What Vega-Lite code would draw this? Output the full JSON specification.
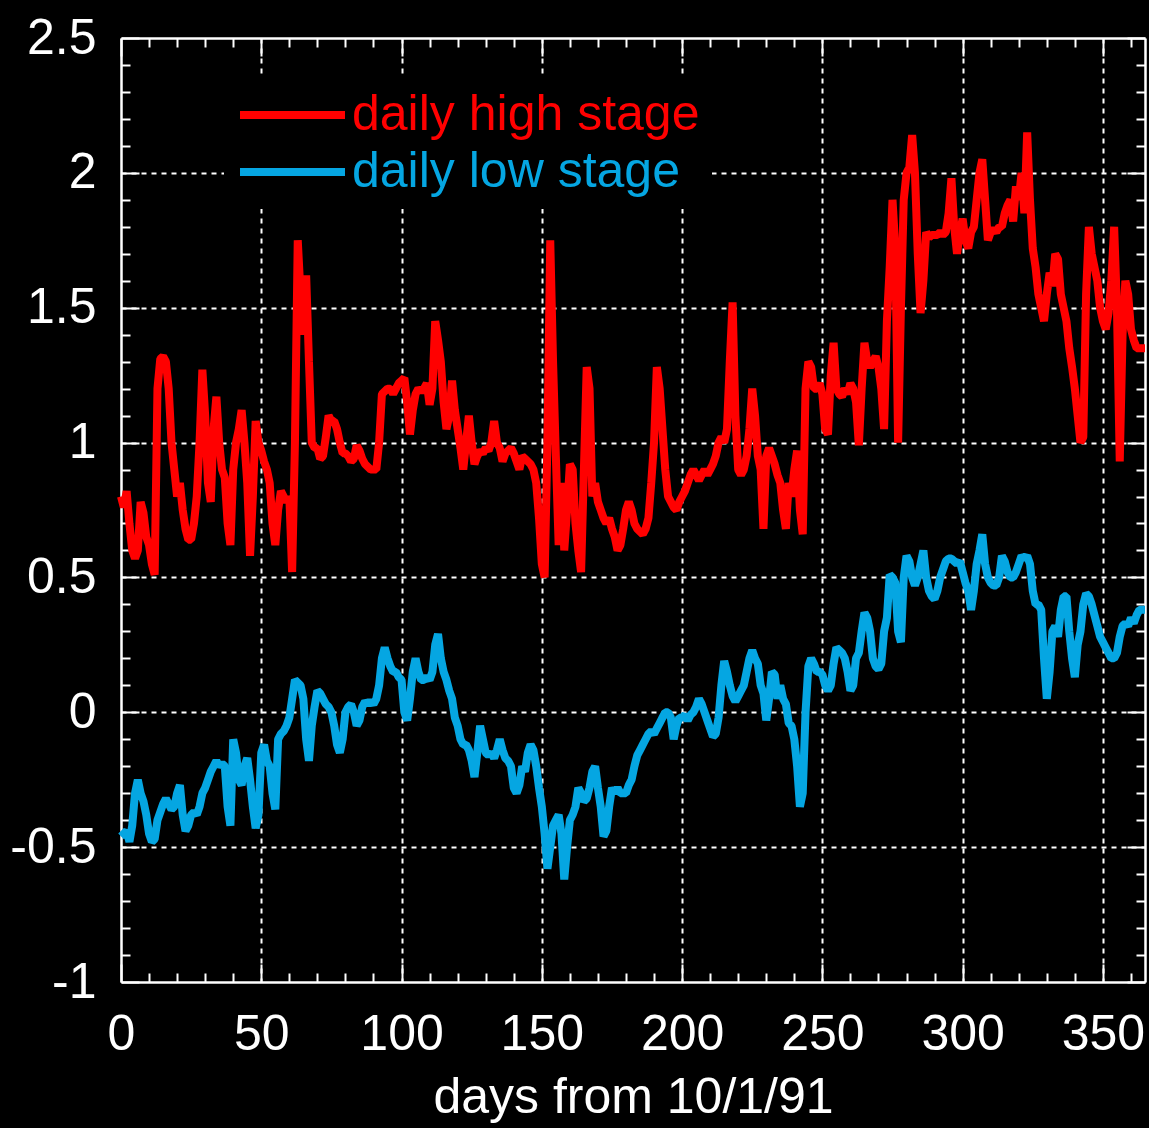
{
"$schema": "https://vega.github.io/schema/vega-lite/v6.json",
"autosize": {"type": "none"},
"padding": {"left": 121, "top": 38, "right": 4, "bottom": 146},
"width": 1024,
"height": 944,
"background": "black",
"config": {"view": {"stroke": null}, "font": "Liberation Sans"},
"data": {"values": [
{"day":0,"high":0.80,"low":-0.46},{"day":1,"high":0.76,"low":-0.45},{"day":2,"high":0.82,"low":-0.44},{"day":3,"high":0.70,"low":-0.48},{"day":4,"high":0.60,"low":-0.42},
{"day":5,"high":0.57,"low":-0.30},{"day":6,"high":0.60,"low":-0.25},{"day":7,"high":0.78,"low":-0.30},{"day":8,"high":0.74,"low":-0.33},{"day":9,"high":0.65,"low":-0.38},
{"day":10,"high":0.62,"low":-0.45},{"day":11,"high":0.55,"low":-0.48},{"day":12,"high":0.51,"low":-0.47},{"day":13,"high":1.20,"low":-0.40},{"day":14,"high":1.31,"low":-0.37},
{"day":15,"high":1.32,"low":-0.34},{"day":16,"high":1.30,"low":-0.32},{"day":17,"high":1.20,"low":-0.34},{"day":18,"high":1.00,"low":-0.36},{"day":19,"high":0.90,"low":-0.35},
{"day":20,"high":0.80,"low":-0.30},{"day":21,"high":0.85,"low":-0.27},{"day":22,"high":0.75,"low":-0.38},{"day":23,"high":0.68,"low":-0.44},{"day":24,"high":0.64,"low":-0.42},
{"day":25,"high":0.64,"low":-0.38},{"day":26,"high":0.70,"low":-0.37},{"day":27,"high":0.80,"low":-0.38},{"day":28,"high":1.00,"low":-0.35},{"day":29,"high":1.27,"low":-0.30},
{"day":30,"high":1.10,"low":-0.28},{"day":31,"high":0.85,"low":-0.25},{"day":32,"high":0.78,"low":-0.22},{"day":33,"high":1.05,"low":-0.20},{"day":34,"high":1.17,"low":-0.18},
{"day":35,"high":1.00,"low":-0.20},{"day":36,"high":0.90,"low":-0.19},{"day":37,"high":0.87,"low":-0.20},{"day":38,"high":0.70,"low":-0.35},{"day":39,"high":0.62,"low":-0.42},
{"day":40,"high":0.90,"low":-0.10},{"day":41,"high":1.00,"low":-0.15},{"day":42,"high":1.05,"low":-0.25},{"day":43,"high":1.12,"low":-0.27},{"day":44,"high":1.00,"low":-0.20},
{"day":45,"high":0.85,"low":-0.17},{"day":46,"high":0.58,"low":-0.25},{"day":47,"high":0.80,"low":-0.35},{"day":48,"high":1.08,"low":-0.43},{"day":49,"high":1.00,"low":-0.38},
{"day":50,"high":0.97,"low":-0.15},{"day":51,"high":0.93,"low":-0.12},{"day":52,"high":0.90,"low":-0.18},{"day":53,"high":0.85,"low":-0.20},{"day":54,"high":0.70,"low":-0.30},
{"day":55,"high":0.62,"low":-0.36},{"day":56,"high":0.75,"low":-0.10},{"day":57,"high":0.82,"low":-0.08},{"day":58,"high":0.80,"low":-0.07},{"day":59,"high":0.78,"low":-0.05},
{"day":60,"high":0.80,"low":-0.02},{"day":61,"high":0.52,"low":0.05},{"day":62,"high":1.00,"low":0.12},{"day":63,"high":1.75,"low":0.11},{"day":64,"high":1.55,"low":0.10},
{"day":65,"high":1.40,"low":0.05},{"day":66,"high":1.62,"low":-0.10},{"day":67,"high":1.30,"low":-0.18},{"day":68,"high":1.00,"low":-0.05},{"day":69,"high":0.98,"low":0.02},
{"day":70,"high":0.98,"low":0.08},{"day":71,"high":0.94,"low":0.07},{"day":72,"high":0.95,"low":0.05},{"day":73,"high":1.02,"low":0.03},{"day":74,"high":1.10,"low":0.02},
{"day":75,"high":1.08,"low":0.00},{"day":76,"high":1.08,"low":-0.05},{"day":77,"high":1.05,"low":-0.12},{"day":78,"high":1.00,"low":-0.15},{"day":79,"high":0.96,"low":-0.10},
{"day":80,"high":0.96,"low":0.00},{"day":81,"high":0.95,"low":0.02},{"day":82,"high":0.93,"low":0.03},{"day":83,"high":0.94,"low":0.00},{"day":84,"high":0.99,"low":-0.05},
{"day":85,"high":0.97,"low":-0.03},{"day":86,"high":0.94,"low":0.02},{"day":87,"high":0.92,"low":0.04},{"day":88,"high":0.91,"low":0.03},{"day":89,"high":0.90,"low":0.04},
{"day":90,"high":0.90,"low":0.03},{"day":91,"high":0.90,"low":0.05},{"day":92,"high":1.00,"low":0.10},{"day":93,"high":1.18,"low":0.20},{"day":94,"high":1.19,"low":0.24},
{"day":95,"high":1.20,"low":0.20},{"day":96,"high":1.20,"low":0.17},{"day":97,"high":1.18,"low":0.15},{"day":98,"high":1.20,"low":0.15},{"day":99,"high":1.22,"low":0.13},
{"day":100,"high":1.23,"low":0.12},{"day":101,"high":1.24,"low":0.00},{"day":102,"high":1.15,"low":-0.03},{"day":103,"high":1.03,"low":0.05},{"day":104,"high":1.12,"low":0.15},
{"day":105,"high":1.18,"low":0.20},{"day":106,"high":1.20,"low":0.15},{"day":107,"high":1.19,"low":0.12},{"day":108,"high":1.20,"low":0.12},{"day":109,"high":1.22,"low":0.13},
{"day":110,"high":1.14,"low":0.12},{"day":111,"high":1.20,"low":0.15},{"day":112,"high":1.45,"low":0.25},{"day":113,"high":1.38,"low":0.29},{"day":114,"high":1.30,"low":0.20},
{"day":115,"high":1.15,"low":0.15},{"day":116,"high":1.05,"low":0.12},{"day":117,"high":1.10,"low":0.08},{"day":118,"high":1.23,"low":0.05},{"day":119,"high":1.12,"low":-0.02},
{"day":120,"high":1.05,"low":-0.05},{"day":121,"high":0.98,"low":-0.10},{"day":122,"high":0.90,"low":-0.12},{"day":123,"high":1.00,"low":-0.12},{"day":124,"high":1.10,"low":-0.14},
{"day":125,"high":1.00,"low":-0.18},{"day":126,"high":0.92,"low":-0.24},{"day":127,"high":0.95,"low":-0.15},{"day":128,"high":0.97,"low":-0.05},{"day":129,"high":0.96,"low":-0.10},
{"day":130,"high":0.98,"low":-0.15},{"day":131,"high":0.97,"low":-0.16},{"day":132,"high":1.00,"low":-0.15},{"day":133,"high":1.08,"low":-0.17},{"day":134,"high":1.00,"low":-0.14},
{"day":135,"high":0.98,"low":-0.10},{"day":136,"high":0.93,"low":-0.14},{"day":137,"high":0.96,"low":-0.17},{"day":138,"high":0.97,"low":-0.18},{"day":139,"high":0.98,"low":-0.20},
{"day":140,"high":0.96,"low":-0.28},{"day":141,"high":0.93,"low":-0.30},{"day":142,"high":0.90,"low":-0.27},{"day":143,"high":0.95,"low":-0.20},{"day":144,"high":0.94,"low":-0.22},
{"day":145,"high":0.93,"low":-0.15},{"day":146,"high":0.92,"low":-0.12},{"day":147,"high":0.90,"low":-0.14},{"day":148,"high":0.85,"low":-0.20},{"day":149,"high":0.72,"low":-0.28},
{"day":150,"high":0.55,"low":-0.35},{"day":151,"high":0.50,"low":-0.45},{"day":152,"high":1.00,"low":-0.58},{"day":153,"high":1.75,"low":-0.50},{"day":154,"high":1.30,"low":-0.42},
{"day":155,"high":0.95,"low":-0.40},{"day":156,"high":0.62,"low":-0.38},{"day":157,"high":0.85,"low":-0.45},{"day":158,"high":0.60,"low":-0.62},{"day":159,"high":0.75,"low":-0.50},
{"day":160,"high":0.92,"low":-0.40},{"day":161,"high":0.90,"low":-0.38},{"day":162,"high":0.70,"low":-0.35},{"day":163,"high":0.60,"low":-0.28},{"day":164,"high":0.52,"low":-0.30},
{"day":165,"high":0.90,"low":-0.33},{"day":166,"high":1.28,"low":-0.32},{"day":167,"high":1.20,"low":-0.28},{"day":168,"high":0.80,"low":-0.22},{"day":169,"high":0.85,"low":-0.20},
{"day":170,"high":0.78,"low":-0.28},{"day":171,"high":0.75,"low":-0.35},{"day":172,"high":0.72,"low":-0.46},{"day":173,"high":0.70,"low":-0.44},{"day":174,"high":0.72,"low":-0.35},
{"day":175,"high":0.68,"low":-0.28},{"day":176,"high":0.65,"low":-0.30},{"day":177,"high":0.60,"low":-0.28},{"day":178,"high":0.62,"low":-0.30},{"day":179,"high":0.68,"low":-0.30},
{"day":180,"high":0.75,"low":-0.30},{"day":181,"high":0.78,"low":-0.27},{"day":182,"high":0.75,"low":-0.25},{"day":183,"high":0.70,"low":-0.20},{"day":184,"high":0.68,"low":-0.16},
{"day":185,"high":0.67,"low":-0.14},{"day":186,"high":0.66,"low":-0.12},{"day":187,"high":0.68,"low":-0.10},{"day":188,"high":0.72,"low":-0.08},{"day":189,"high":0.85,"low":-0.07},
{"day":190,"high":1.00,"low":-0.08},{"day":191,"high":1.28,"low":-0.06},{"day":192,"high":1.20,"low":-0.04},{"day":193,"high":1.05,"low":-0.02},{"day":194,"high":0.90,"low":0.00},
{"day":195,"high":0.80,"low":0.00},{"day":196,"high":0.78,"low":-0.02},{"day":197,"high":0.76,"low":-0.10},{"day":198,"high":0.75,"low":-0.05},{"day":199,"high":0.78,"low":-0.02},
{"day":200,"high":0.80,"low":-0.02},{"day":201,"high":0.82,"low":-0.01},{"day":202,"high":0.85,"low":-0.03},{"day":203,"high":0.88,"low":-0.01},{"day":204,"high":0.90,"low":0.00},
{"day":205,"high":0.88,"low":0.02},{"day":206,"high":0.86,"low":0.05},{"day":207,"high":0.88,"low":0.03},{"day":208,"high":0.90,"low":0.00},{"day":209,"high":0.88,"low":-0.03},
{"day":210,"high":0.90,"low":-0.06},{"day":211,"high":0.92,"low":-0.09},{"day":212,"high":0.95,"low":-0.08},{"day":213,"high":1.00,"low":-0.02},{"day":214,"high":1.02,"low":0.10},
{"day":215,"high":1.00,"low":0.19},{"day":216,"high":1.05,"low":0.15},{"day":217,"high":1.30,"low":0.10},{"day":218,"high":1.52,"low":0.06},{"day":219,"high":1.10,"low":0.04},
{"day":220,"high":0.90,"low":0.06},{"day":221,"high":0.88,"low":0.08},{"day":222,"high":0.90,"low":0.10},{"day":223,"high":0.95,"low":0.15},{"day":224,"high":1.05,"low":0.20},
{"day":225,"high":1.20,"low":0.23},{"day":226,"high":1.10,"low":0.20},{"day":227,"high":0.95,"low":0.18},{"day":228,"high":0.90,"low":0.10},{"day":229,"high":0.68,"low":0.07},
{"day":230,"high":0.95,"low":-0.03},{"day":231,"high":0.98,"low":0.05},{"day":232,"high":0.95,"low":0.15},{"day":233,"high":0.92,"low":0.14},{"day":234,"high":0.88,"low":0.05},
{"day":235,"high":0.85,"low":0.10},{"day":236,"high":0.75,"low":0.05},{"day":237,"high":0.68,"low":0.03},{"day":238,"high":0.85,"low":-0.04},{"day":239,"high":0.80,"low":-0.05},
{"day":240,"high":0.90,"low":-0.10},{"day":241,"high":0.97,"low":-0.20},{"day":242,"high":0.75,"low":-0.35},{"day":243,"high":0.66,"low":-0.30},{"day":244,"high":1.20,"low":0.00},
{"day":245,"high":1.30,"low":0.17},{"day":246,"high":1.28,"low":0.20},{"day":247,"high":1.20,"low":0.18},{"day":248,"high":1.20,"low":0.15},{"day":249,"high":1.22,"low":0.15},
{"day":250,"high":1.18,"low":0.14},{"day":251,"high":1.05,"low":0.10},{"day":252,"high":1.03,"low":0.08},{"day":253,"high":1.25,"low":0.10},{"day":254,"high":1.37,"low":0.18},
{"day":255,"high":1.20,"low":0.24},{"day":256,"high":1.18,"low":0.23},{"day":257,"high":1.17,"low":0.22},{"day":258,"high":1.20,"low":0.20},{"day":259,"high":1.18,"low":0.15},
{"day":260,"high":1.22,"low":0.08},{"day":261,"high":1.20,"low":0.10},{"day":262,"high":1.15,"low":0.20},{"day":263,"high":0.99,"low":0.22},{"day":264,"high":1.20,"low":0.30},
{"day":265,"high":1.37,"low":0.37},{"day":266,"high":1.30,"low":0.35},{"day":267,"high":1.28,"low":0.30},{"day":268,"high":1.30,"low":0.20},{"day":269,"high":1.32,"low":0.17},
{"day":270,"high":1.28,"low":0.16},{"day":271,"high":1.20,"low":0.18},{"day":272,"high":1.05,"low":0.30},{"day":273,"high":1.45,"low":0.35},{"day":274,"high":1.65,"low":0.51},
{"day":275,"high":1.90,"low":0.50},{"day":276,"high":1.72,"low":0.48},{"day":277,"high":1.00,"low":0.30},{"day":278,"high":1.50,"low":0.26},{"day":279,"high":1.90,"low":0.50},
{"day":280,"high":2.00,"low":0.58},{"day":281,"high":2.02,"low":0.56},{"day":282,"high":2.14,"low":0.50},{"day":283,"high":2.00,"low":0.47},{"day":284,"high":1.70,"low":0.50},
{"day":285,"high":1.48,"low":0.55},{"day":286,"high":1.60,"low":0.60},{"day":287,"high":1.78,"low":0.50},{"day":288,"high":1.76,"low":0.45},{"day":289,"high":1.77,"low":0.43},
{"day":290,"high":1.77,"low":0.42},{"day":291,"high":1.77,"low":0.45},{"day":292,"high":1.78,"low":0.50},{"day":293,"high":1.77,"low":0.53},{"day":294,"high":1.78,"low":0.56},
{"day":295,"high":1.85,"low":0.57},{"day":296,"high":1.98,"low":0.57},{"day":297,"high":1.80,"low":0.56},{"day":298,"high":1.70,"low":0.55},{"day":299,"high":1.78,"low":0.56},
{"day":300,"high":1.83,"low":0.52},{"day":301,"high":1.75,"low":0.48},{"day":302,"high":1.72,"low":0.45},{"day":303,"high":1.78,"low":0.38},{"day":304,"high":1.80,"low":0.45},
{"day":305,"high":1.90,"low":0.55},{"day":306,"high":2.00,"low":0.60},{"day":307,"high":2.05,"low":0.66},{"day":308,"high":1.90,"low":0.55},{"day":309,"high":1.75,"low":0.50},
{"day":310,"high":1.78,"low":0.48},{"day":311,"high":1.79,"low":0.47},{"day":312,"high":1.78,"low":0.47},{"day":313,"high":1.80,"low":0.50},{"day":314,"high":1.80,"low":0.58},
{"day":315,"high":1.85,"low":0.56},{"day":316,"high":1.88,"low":0.52},{"day":317,"high":1.90,"low":0.50},{"day":318,"high":1.82,"low":0.50},{"day":319,"high":1.95,"low":0.52},
{"day":320,"high":1.90,"low":0.55},{"day":321,"high":2.00,"low":0.58},{"day":322,"high":1.85,"low":0.57},{"day":323,"high":2.15,"low":0.58},{"day":324,"high":1.90,"low":0.55},
{"day":325,"high":1.72,"low":0.45},{"day":326,"high":1.65,"low":0.40},{"day":327,"high":1.55,"low":0.40},{"day":328,"high":1.50,"low":0.38},{"day":329,"high":1.45,"low":0.20},
{"day":330,"high":1.55,"low":0.05},{"day":331,"high":1.63,"low":0.15},{"day":332,"high":1.58,"low":0.30},{"day":333,"high":1.70,"low":0.32},{"day":334,"high":1.68,"low":0.28},
{"day":335,"high":1.55,"low":0.38},{"day":336,"high":1.50,"low":0.43},{"day":337,"high":1.45,"low":0.43},{"day":338,"high":1.35,"low":0.30},{"day":339,"high":1.28,"low":0.20},
{"day":340,"high":1.20,"low":0.13},{"day":341,"high":1.10,"low":0.25},{"day":342,"high":1.00,"low":0.30},{"day":343,"high":1.02,"low":0.40},{"day":344,"high":1.55,"low":0.44},
{"day":345,"high":1.80,"low":0.43},{"day":346,"high":1.70,"low":0.40},{"day":347,"high":1.65,"low":0.36},{"day":348,"high":1.60,"low":0.32},{"day":349,"high":1.50,"low":0.28},
{"day":350,"high":1.45,"low":0.26},{"day":351,"high":1.42,"low":0.24},{"day":352,"high":1.48,"low":0.22},{"day":353,"high":1.60,"low":0.20},{"day":354,"high":1.80,"low":0.20},
{"day":355,"high":1.50,"low":0.22},{"day":356,"high":0.93,"low":0.28},{"day":357,"high":1.40,"low":0.32},{"day":358,"high":1.60,"low":0.33},{"day":359,"high":1.55,"low":0.32},
{"day":360,"high":1.42,"low":0.35},{"day":361,"high":1.38,"low":0.33},{"day":362,"high":1.35,"low":0.36},{"day":363,"high":1.35,"low":0.38},{"day":364,"high":1.35,"low":0.38},
{"day":365,"high":1.35,"low":0.38}
]},
"transform": [{"fold": ["high", "low"], "as": ["series", "stage"]}],
"layer": [
{
"mark": {"type": "line", "strokeWidth": 8, "strokeJoin": "bevel"},
"encoding": {
"x": {"field": "day", "type": "quantitative",
"scale": {"domain": [0, 365], "nice": false, "zero": false},
"axis": {"orient": "bottom",
"values": [0,10,20,30,40,50,60,70,80,90,100,110,120,130,140,150,160,170,180,190,200,210,220,230,240,250,260,270,280,290,300,310,320,330,340,350,360],
"labelExpr": "datum.value % 50 === 0 ? '' + datum.value : ''",
"labelOverlap": false, "labelFlush": false,
"labelFont": "Liberation Sans", "labelFontSize": 50, "labelColor": "white", "labelPadding": 45,
"tickSize": {"condition": {"test": "datum.value % 50 === 0", "value": -18}, "value": -9},
"tickColor": "white", "tickWidth": 2,
"domainColor": "white", "domainWidth": 2.5,
"grid": true, "gridColor": "white", "gridWidth": 2, "gridDash": [5, 5],
"gridOpacity": {"condition": {"test": "datum.value % 50 === 0 && datum.value > 0", "value": 1}, "value": 0},
"title": "days from 10/1/91", "titleFont": "Liberation Sans", "titleFontSize": 50, "titleFontWeight": "normal", "titleColor": "white", "titlePadding": 4}},
"y": {"field": "stage", "type": "quantitative",
"scale": {"domain": [-1, 2.5], "nice": false, "zero": false},
"axis": {"orient": "left",
"values": [-1,-0.9,-0.8,-0.7,-0.6,-0.5,-0.4,-0.3,-0.2,-0.1,0,0.1,0.2,0.3,0.4,0.5,0.6,0.7,0.8,0.9,1,1.1,1.2,1.3,1.4,1.5,1.6,1.7,1.8,1.9,2,2.1,2.2,2.3,2.4,2.5],
"labelExpr": "abs(round(datum.value * 10)) % 5 === 0 ? '' + datum.value : ''",
"labelOverlap": false, "labelFlush": false,
"labelFont": "Liberation Sans", "labelFontSize": 50, "labelColor": "white", "labelPadding": 43,
"tickSize": {"condition": {"test": "abs(round(datum.value * 10)) % 5 === 0", "value": -18}, "value": -9},
"tickColor": "white", "tickWidth": 2,
"domainColor": "white", "domainWidth": 2.5,
"grid": true, "gridColor": "white", "gridWidth": 2, "gridDash": [5, 5],
"gridOpacity": {"condition": {"test": "abs(round(datum.value * 10)) % 5 === 0 && datum.value > -1 && datum.value < 2.5", "value": 1}, "value": 0},
"title": null}},
"color": {"field": "series", "type": "nominal",
"scale": {"domain": ["high", "low"], "range": ["#ff0000", "#05a6e2"]},
"legend": {"orient": "none", "legendX": 103, "legendY": 40, "title": null, "direction": "vertical",
"fillColor": "black", "strokeColor": null, "padding": 12,
"symbolType": "M-2,0L8,0", "symbolSize": 441, "symbolStrokeWidth": 8,
"labelFont": "Liberation Sans", "labelFontSize": 50, "labelOffset": 66, "rowPadding": 7, "labelLimit": 2000,
"labelExpr": "datum.label === 'high' ? 'daily high stage' : 'daily low stage'",
"encode": {"labels": {"update": {"fill": {"scale": "color", "field": "value"}}}}}}
}
},
{
"mark": {"type": "point", "opacity": 0},
"encoding": {
"x": {"field": "day", "type": "quantitative",
"axis": {"orient": "top",
"values": [0,10,20,30,40,50,60,70,80,90,100,110,120,130,140,150,160,170,180,190,200,210,220,230,240,250,260,270,280,290,300,310,320,330,340,350,360],
"labels": false, "grid": false, "title": null,
"tickSize": {"condition": {"test": "datum.value % 50 === 0", "value": -18}, "value": -9},
"tickColor": "white", "tickWidth": 2, "domainColor": "white", "domainWidth": 2.5}},
"y": {"field": "stage", "type": "quantitative",
"axis": {"orient": "right",
"values": [-1,-0.9,-0.8,-0.7,-0.6,-0.5,-0.4,-0.3,-0.2,-0.1,0,0.1,0.2,0.3,0.4,0.5,0.6,0.7,0.8,0.9,1,1.1,1.2,1.3,1.4,1.5,1.6,1.7,1.8,1.9,2,2.1,2.2,2.3,2.4,2.5],
"labels": false, "grid": false, "title": null,
"tickSize": {"condition": {"test": "abs(round(datum.value * 10)) % 5 === 0", "value": -18}, "value": -9},
"tickColor": "white", "tickWidth": 2, "domainColor": "white", "domainWidth": 2.5}}
}
}
],
"resolve": {"axis": {"x": "independent", "y": "independent"}}
}
